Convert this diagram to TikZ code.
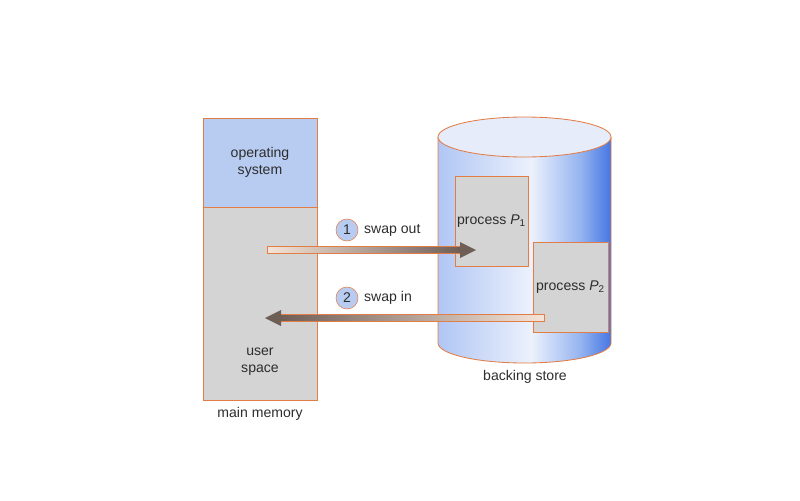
\documentclass[tikz,border=0pt]{standalone}
\usepackage{fontspec}
\setmainfont{Liberation Sans}
\usetikzlibrary{calc,positioning}
\definecolor{edgeorange}{RGB}{226,125,70}
\definecolor{osblue}{RGB}{184,204,242}
\definecolor{boxgray}{RGB}{212,212,212}
\definecolor{cylL}{RGB}{176,198,244}
\definecolor{cylM}{RGB}{236,241,252}
\definecolor{cylQ}{RGB}{150,180,240}
\definecolor{cylR}{RGB}{70,118,226}
\definecolor{topfill}{RGB}{230,236,250}
\definecolor{arrowdark}{RGB}{110,94,86}
\definecolor{arrowlight}{RGB}{246,228,216}
\definecolor{textgray}{RGB}{45,45,45}
\pgfdeclarehorizontalshading{drum}{100bp}{color(0bp)=(cylL); color(25bp)=(cylL); color(52bp)=(cylM); color(66bp)=(cylQ); color(75bp)=(cylR); color(100bp)=(cylR)}
\begin{document}
\begin{tikzpicture}
[x=0.025cm, y=-0.025cm,
every node/.style={font=\fontsize{10}{12}\selectfont, text=textgray},
region/.style={draw=edgeorange, line width=0.6pt, inner sep=0pt},
numdisc/.style={circle, draw=edgeorange, fill=osblue, minimum size=0.55cm, inner sep=0pt},
shaft/.style={draw=edgeorange, line width=0.6pt}
]
  \useasboundingbox (0,0) rectangle (800,500);

  % backing store drum
  \shade[shading=drum, draw=edgeorange, line width=0.6pt]
    (438,137) -- (438,343) arc[start angle=180, end angle=0, x radius=86.5, y radius=20] -- (611,137);
  \filldraw[fill=topfill, draw=edgeorange, line width=0.6pt] (524.5,137) ellipse[x radius=86.5, y radius=20];

  % main memory
  \node[region, fill=osblue, minimum width=2.85cm, minimum height=2.225cm, align=center] (os) at (260,162.5) {operating\\system};
  \node[region, fill=boxgray, minimum width=2.85cm, minimum height=4.825cm] (user) at (260,303.5) {};
  \node[align=center] (usertext) at (260,362) {user\\space};
  \node (mm) at (260,414) {main memory};

  \node[region, fill=boxgray, minimum width=1.825cm, minimum height=2.25cm] (p1) at (491.5,221) {process {\itshape P}\textsubscript{1}};
  \node[region, fill=boxgray, minimum width=1.875cm, minimum height=2.25cm] (p2) at (570.5,287) {process {\itshape P}\textsubscript{2}};
  \node (bs) at (525,377) {backing store};

  \coordinate (outA) at (267,250);
  \coordinate (outB) at (476,250);
  \coordinate (inA) at (544,318);
  \coordinate (inB) at (265,318);

  % swap out
  \shade[shaft, left color=arrowlight, right color=arrowdark] ($(outA)+(0,-3.5)$) rectangle ($(outB)+(-15,3.5)$);
  \fill[arrowdark] ($(outB)+(-16,-8)$) -- (outB) -- ($(outB)+(-16,8)$) -- cycle;
  % swap in
  \shade[shaft, left color=arrowdark, right color=arrowlight] ($(inB)+(15,-3.5)$) rectangle ($(inA)+(0,3.5)$);
  \fill[arrowdark] ($(inB)+(16,-8)$) -- (inB) -- ($(inB)+(16,8)$) -- cycle;

  \node[numdisc] (n1) at (347,230) {1};
  \node[right=4pt of n1, inner sep=0pt] (lout) {swap out};
  \node[numdisc] (n2) at (347,298) {2};
  \node[right=4pt of n2, inner sep=0pt] (lin) {swap in};
\end{tikzpicture}
\end{document}
